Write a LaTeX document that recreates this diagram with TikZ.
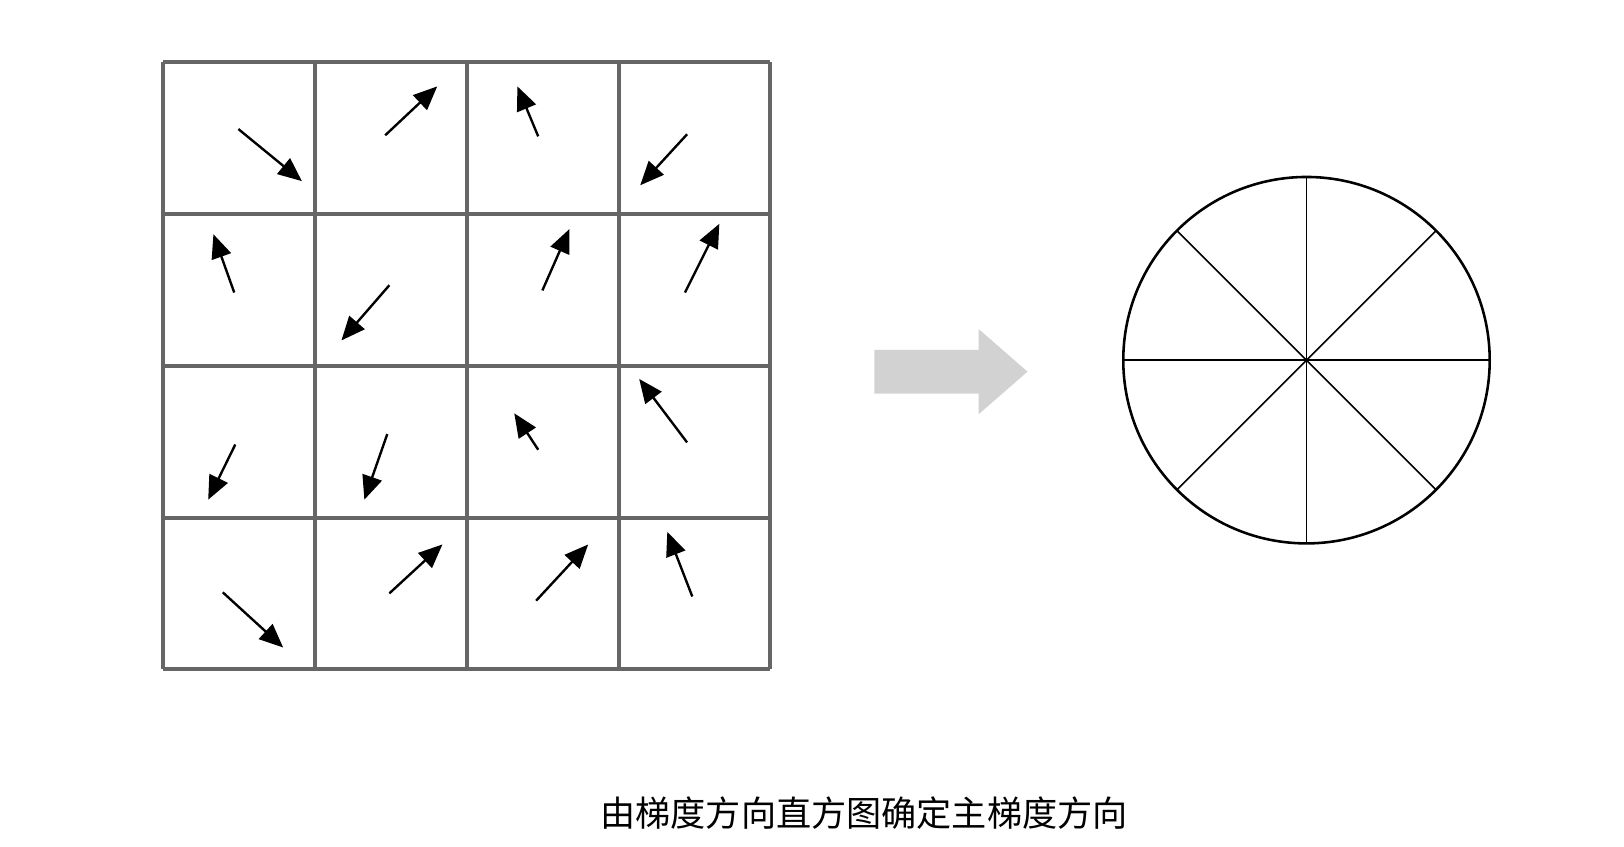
\documentclass[tikz,border=0pt]{standalone}
\usepackage{fontspec}
\newfontfamily\cjk{Noto Sans CJK SC}
\usetikzlibrary{arrows.meta}
\tikzset{
  cellline/.style={draw=gray!80!black,line width=1.1pt},
  grad/.style={-{Triangle[length=6.5pt,width=5.5pt]},line width=0.65pt},
  binline/.style={line width=0.45pt},
}
\begin{document}
\begin{tikzpicture}[x=0.01cm,y=-0.01cm]
    \useasboundingbox (0,0) rectangle (1560,813);
    % grid of cells
    \foreach \i in {0,...,4} {
      \draw[cellline] ({157+\i*145.75},60) -- ({157+\i*145.75},643);
      \draw[cellline] (157,{60+\i*145.75}) -- (740,{60+\i*145.75});
    }
    % gradient arrows
    \foreach \tx/\ty/\hx/\hy in {229/124/290/174, 370/130/420/83, 517/131/497/83, 660/129/615/178,
      225/281/205/225, 374/274/328/327, 521/279/547/220, 658/281/691/215,
      226/427/200/480, 372/417/350/480, 517/432/494/397, 660/425/614/364,
      214/569/272/622, 374/570/425/523, 515/577/565/523, 665/573/641/511}
      \draw[grad] (\tx,\ty) -- (\hx,\hy);
    % big arrow
    \fill[gray!35] (840,336) -- (940,336) -- (940,316) -- (987,357) -- (940,398) -- (940,378) -- (840,378) -- cycle;
    % histogram circle
    \coordinate (c) at (1255,346);
    \draw[line width=0.7pt] (c) circle (176);
    \foreach \a in {0,45,...,315}
      \draw[binline] (c) -- ++(\a:176);
    \node[font=\cjk\fontsize{9.6pt}{11pt}\selectfont] (cap) at (830,781) {由梯度方向直方图确定主梯度方向};
\end{tikzpicture}
\end{document}
